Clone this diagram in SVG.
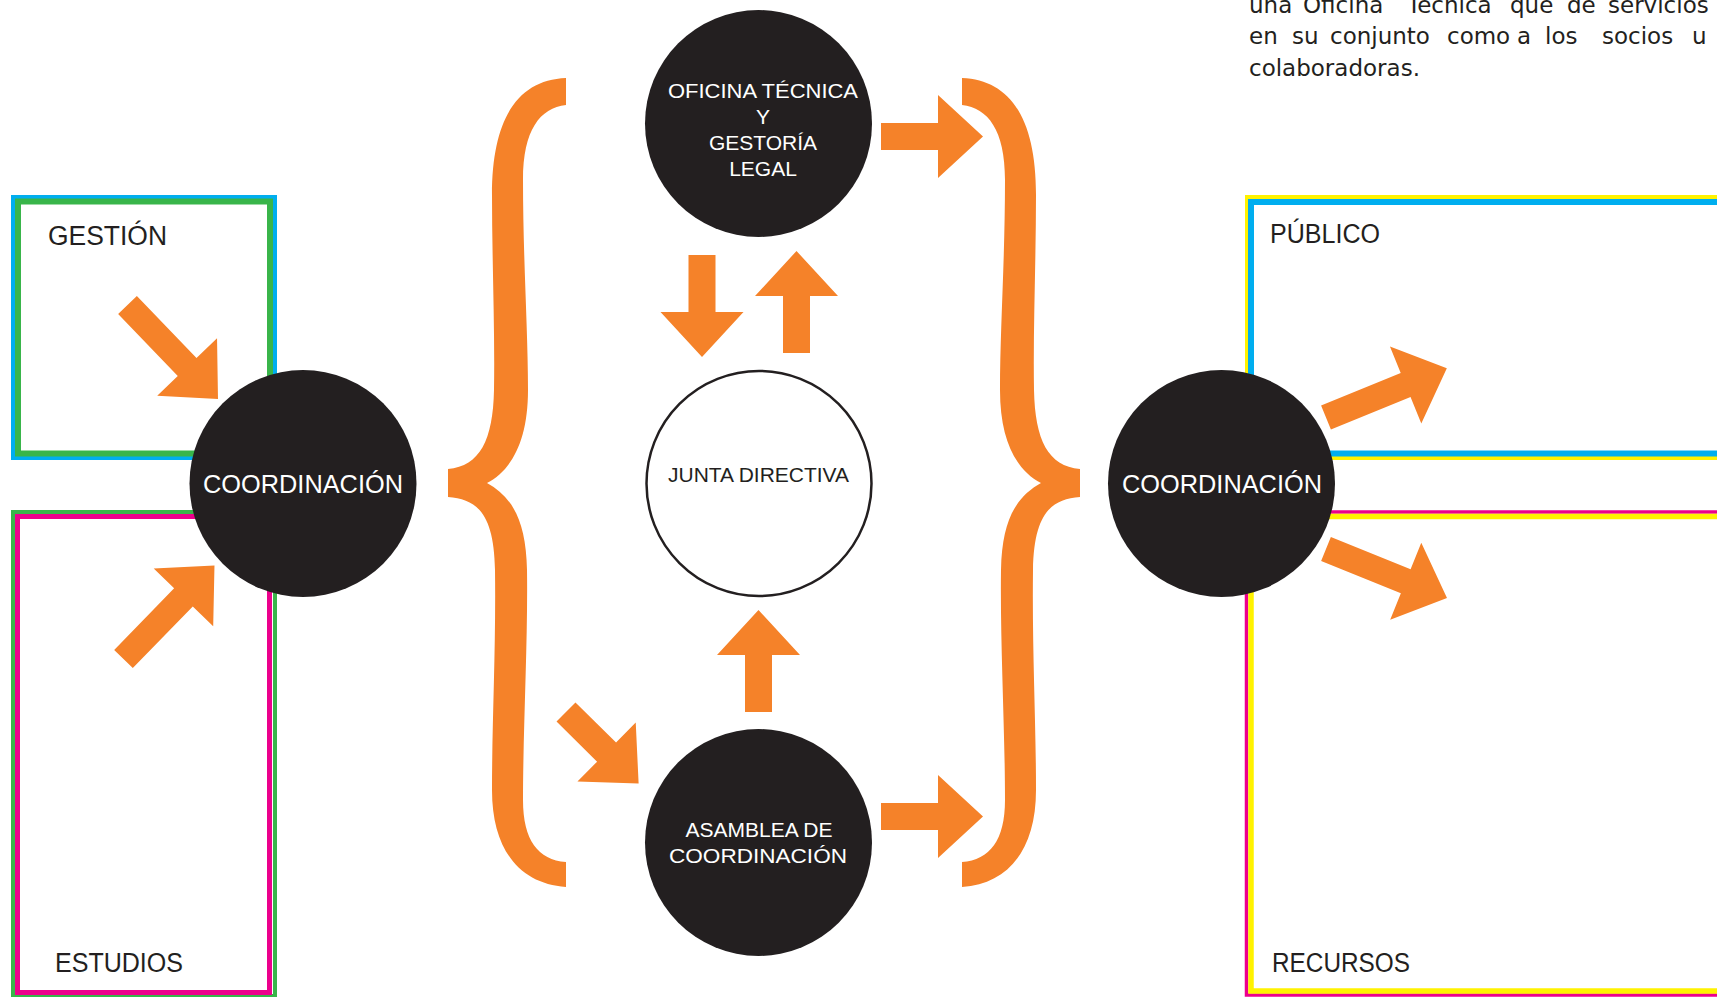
<svg xmlns="http://www.w3.org/2000/svg" xmlns:xlink="http://www.w3.org/1999/xlink" width="1717" height="997" viewBox="0 0 1717 997">
  <style>
    .orange { fill: #F58229; }
    .disc { fill: #231F20; }
    .ring { fill: #FFFFFF; stroke: #231F20; stroke-width: 2.5; }
    .frame { fill: none; }
    .lbl { font-family: "Liberation Sans", Arial, sans-serif; font-size: 27px; fill: #231F20; }
    .in { font-family: "Liberation Sans", Arial, sans-serif; font-size: 21px; fill: #FFFFFF; text-anchor: middle; }
    .coord { font-family: "Liberation Sans", Arial, sans-serif; font-size: 25px; fill: #FFFFFF; text-anchor: middle; }
    .para { font-family: "DejaVu Sans", "Liberation Sans", sans-serif; font-size: 23px; fill: #231F20; }
  </style>
  <defs>
    <!-- arrow shapes, tail centre at origin, pointing along +x -->
    <path id="arrowShort" d="M0,-13.5 H57 V-41.5 L102,0 L57,41.5 V13.5 H0 Z"/>
    <path id="arrowLong" d="M0,-13 H86 V-41.5 L130.5,0 L86,41.5 V13 H0 Z"/>
    <!-- left curly brace -->
    <path id="brace" d="M566,78 C518,80 492,118 492,195 C492,260 495,330 494,390 C493,440 480,466 448,469 L448,497 C478,499 494,515 495,570 C496,650 492,720 492,790 C492,850 520,884 566,887 L566,862 C538,860 523,840 523,800 C523,730 528,640 527,570 C526,520 512,497 487,483 C512,470 528,440 528,390 C528,330 523,260 523,180 C523,130 540,108 566,105 Z"/>
  </defs>

  <rect width="1717" height="997" fill="#FFFFFF"/>

  <!-- paragraph, top right -->
  <g id="paragraph" class="para">
    <text y="12.5"><tspan x="1249">una</tspan><tspan x="1303">Oficina</tspan><tspan x="1407">Técnica</tspan><tspan x="1510">que</tspan><tspan x="1567">de</tspan><tspan x="1608">servicios</tspan></text>
    <text y="44"><tspan x="1249">en</tspan><tspan x="1292">su</tspan><tspan x="1330">conjunto</tspan><tspan x="1447">como</tspan><tspan x="1517">a</tspan><tspan x="1545">los</tspan><tspan x="1602">socios</tspan><tspan x="1692">u</tspan></text>
    <text y="76" x="1249">colaboradoras.</text>
  </g>

  <!-- area boxes -->
  <g id="gestion">
    <rect class="frame" x="13" y="197" width="262" height="261" stroke="#00AEEF" stroke-width="4"/>
    <rect class="frame" x="18" y="201.5" width="252" height="252" stroke="#39B54A" stroke-width="6"/>
    <text class="lbl" x="48" y="245" textLength="119" lengthAdjust="spacingAndGlyphs">GESTIÓN</text>
  </g>
  <g id="estudios">
    <rect class="frame" x="13" y="512" width="262" height="484" stroke="#39B54A" stroke-width="4"/>
    <rect class="frame" x="17.5" y="516.5" width="252" height="476" stroke="#EC008C" stroke-width="5"/>
    <text class="lbl" x="55" y="972" textLength="128" lengthAdjust="spacingAndGlyphs">ESTUDIOS</text>
  </g>
  <g id="publico">
    <rect class="frame" x="1247" y="197" width="500" height="261" stroke="#FFF200" stroke-width="4"/>
    <rect class="frame" x="1251" y="202" width="500" height="251.5" stroke="#00AEEF" stroke-width="6"/>
    <text class="lbl" x="1270" y="243" textLength="110" lengthAdjust="spacingAndGlyphs">PÚBLICO</text>
  </g>
  <g id="recursos">
    <rect class="frame" x="1246.5" y="512" width="500" height="483" stroke="#EC008C" stroke-width="3.5"/>
    <rect class="frame" x="1251" y="516.5" width="500" height="474.5" stroke="#FFF200" stroke-width="5.5"/>
    <text class="lbl" x="1272" y="972" textLength="138" lengthAdjust="spacingAndGlyphs">RECURSOS</text>
  </g>

  <!-- connectors: braces and arrows -->
  <g id="connectors" class="orange">
    <use xlink:href="#brace" href="#brace"/>
    <use xlink:href="#brace" href="#brace" transform="translate(1528,0) scale(-1,1)"/>

    <use xlink:href="#arrowLong" href="#arrowLong" transform="translate(127.5,305) rotate(46.1)"/>
    <use xlink:href="#arrowLong" href="#arrowLong" transform="translate(123.5,659) rotate(-45.8)"/>
    <use xlink:href="#arrowLong" href="#arrowLong" transform="translate(1326,417.5) rotate(-22.2)"/>
    <use xlink:href="#arrowLong" href="#arrowLong" transform="translate(1326,549) rotate(22)"/>

    <use xlink:href="#arrowShort" href="#arrowShort" transform="translate(881,136.5)"/>
    <use xlink:href="#arrowShort" href="#arrowShort" transform="translate(881,816.5)"/>
    <use xlink:href="#arrowShort" href="#arrowShort" transform="translate(702,255) rotate(90)"/>
    <use xlink:href="#arrowShort" href="#arrowShort" transform="translate(796.5,353) rotate(-90)"/>
    <use xlink:href="#arrowShort" href="#arrowShort" transform="translate(758.5,712) rotate(-90)"/>
    <use xlink:href="#arrowShort" href="#arrowShort" transform="translate(566,712) rotate(44.6)"/>
  </g>

  <!-- nodes -->
  <g id="coordinacion-left">
    <circle class="disc" cx="303" cy="483.5" r="113.5"/>
    <text class="coord" x="303" y="493" textLength="200" lengthAdjust="spacingAndGlyphs">COORDINACIÓN</text>
  </g>
  <g id="coordinacion-right">
    <circle class="disc" cx="1221.5" cy="483.5" r="113.5"/>
    <text class="coord" x="1222" y="493" textLength="200" lengthAdjust="spacingAndGlyphs">COORDINACIÓN</text>
  </g>
  <g id="oficina-tecnica">
    <circle class="disc" cx="758.5" cy="123.5" r="113.5"/>
    <text class="in" x="763" y="98" textLength="190" lengthAdjust="spacingAndGlyphs">OFICINA TÉCNICA</text>
    <text class="in" x="763" y="124">Y</text>
    <text class="in" x="763" y="150">GESTORÍA</text>
    <text class="in" x="763" y="176">LEGAL</text>
  </g>
  <g id="junta-directiva">
    <circle class="ring" cx="759" cy="483.5" r="112.5"/>
    <text class="in" x="758.5" y="482" fill="#231F20" style="fill:#231F20" textLength="181" lengthAdjust="spacingAndGlyphs">JUNTA DIRECTIVA</text>
  </g>
  <g id="asamblea">
    <circle class="disc" cx="758.5" cy="842.5" r="113.5"/>
    <text class="in" x="759" y="837">ASAMBLEA DE</text>
    <text class="in" x="758" y="863" textLength="178" lengthAdjust="spacingAndGlyphs">COORDINACIÓN</text>
  </g>
</svg>
